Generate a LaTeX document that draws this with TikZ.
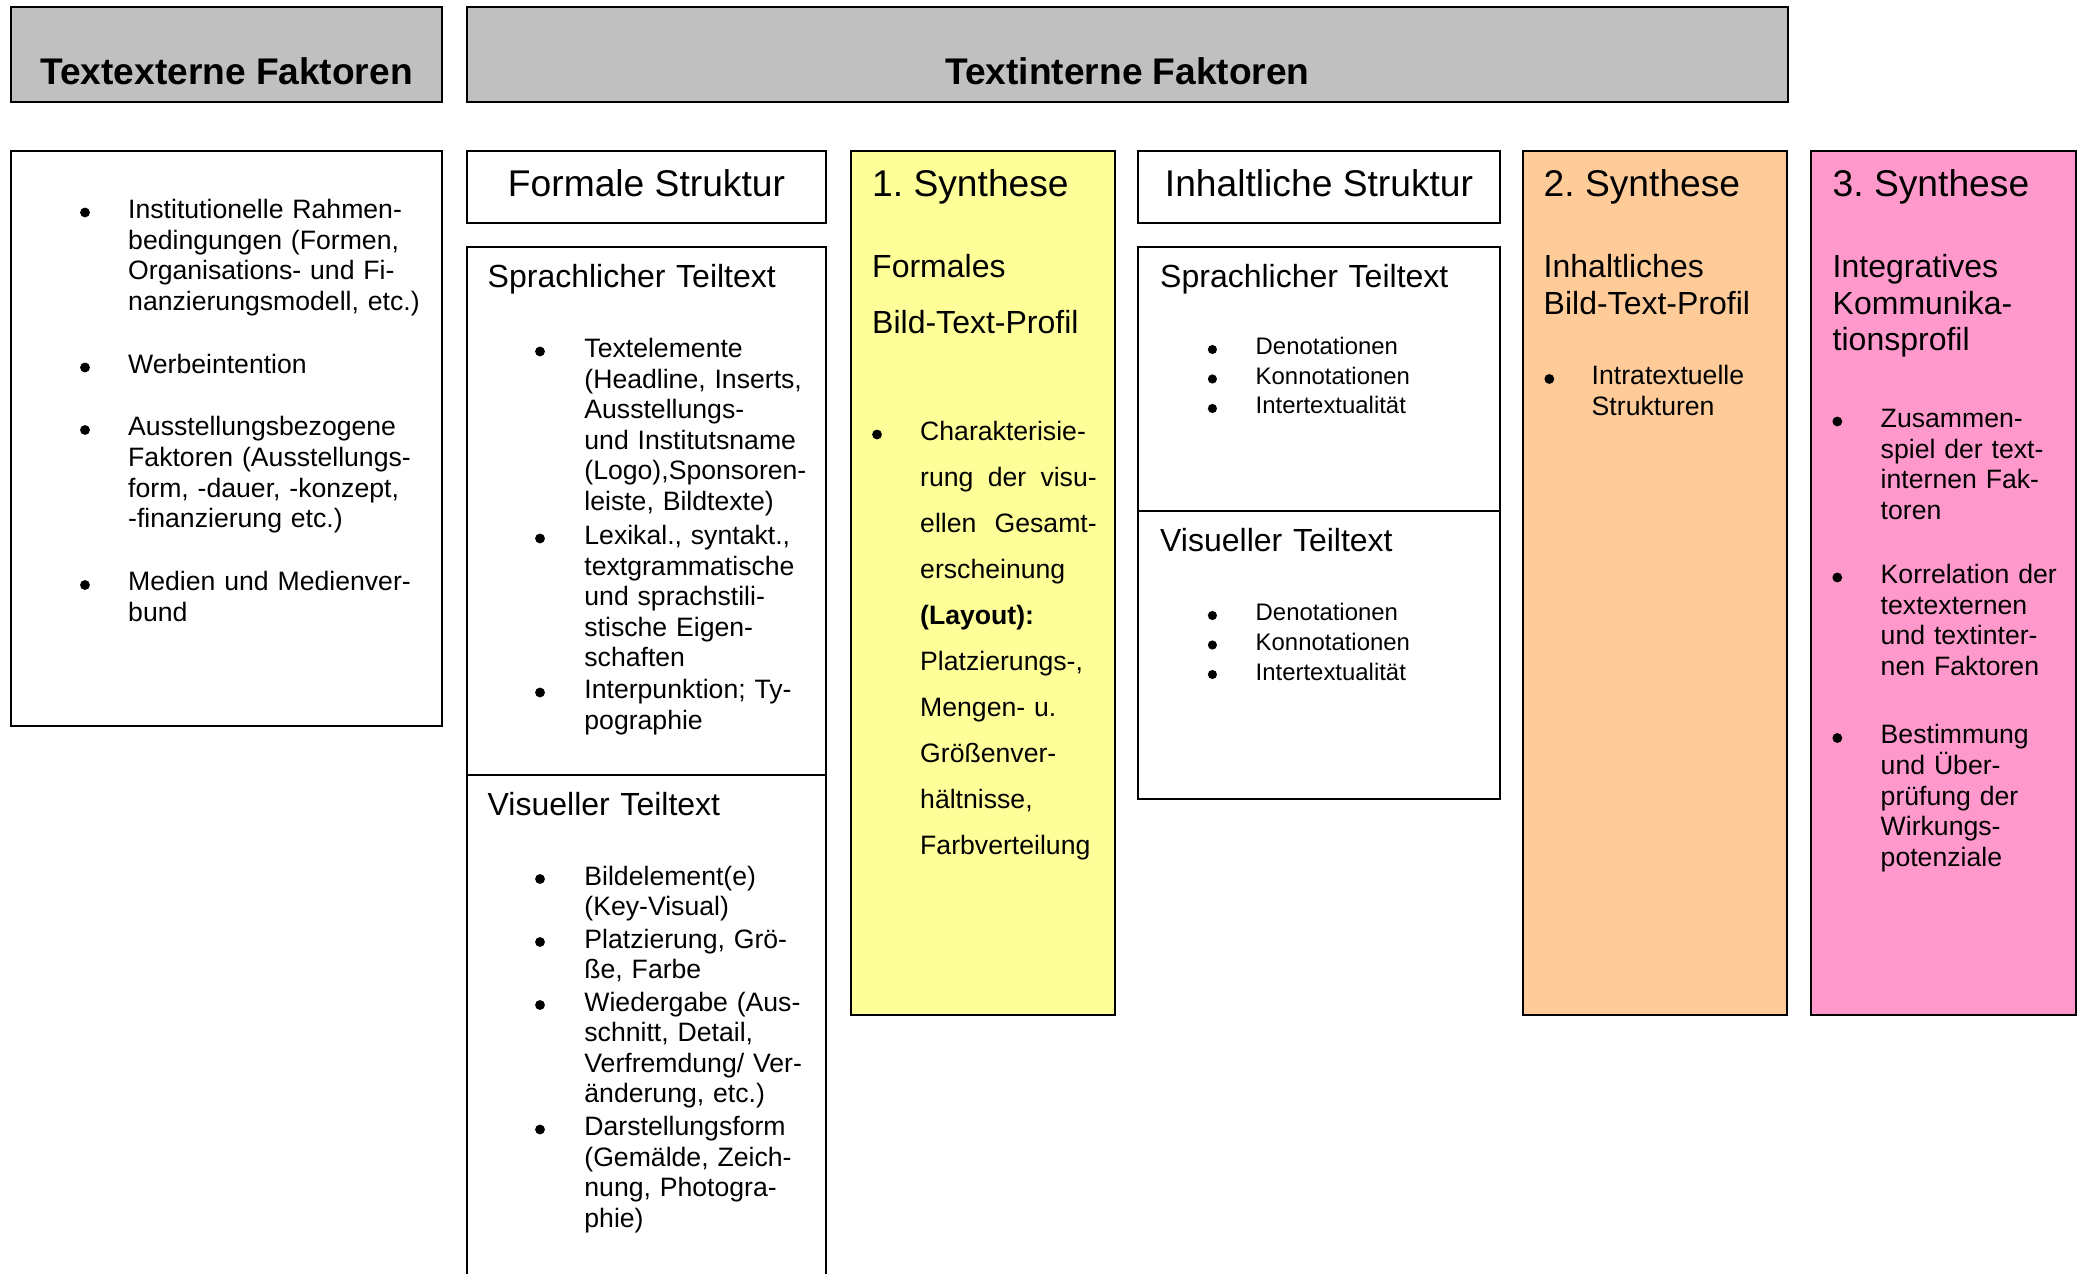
\documentclass[tikz,border=0pt]{standalone}
\usepackage{fontspec}
\setmainfont{Liberation Sans}
\definecolor{hdrgray}{HTML}{C0C0C0}
\definecolor{synyellow}{HTML}{FFFF99}
\definecolor{synorange}{HTML}{FFCC99}
\definecolor{synpink}{HTML}{FF99CC}
\tikzset{
  frame/.style={draw=black, line width=0.6pt},
  head/.style={inner sep=0pt, anchor=base, font=\bfseries\fontsize{10.55pt}{12pt}\selectfont},
  title/.style={inner sep=0pt, font=\fontsize{10.58pt}{12pt}\selectfont},
  txt/.style={anchor=base west, inner sep=0pt, text width=5cm, align=left},
  mid/.style={txt, font=\fontsize{9.1pt}{10.33pt}\selectfont},
  body/.style={txt, font=\fontsize{7.57pt}{8.68pt}\selectfont},
  small/.style={txt, font=\fontsize{6.8pt}{8.39pt}\selectfont}
}
\newcommand{\bul}[2]{\fill (#1,#2) circle (1.4pt);}
\newcommand{\sbul}[2]{\fill (#1,#2) circle (1.3pt);}
\begin{document}
\frenchspacing
\begin{tikzpicture}[x=0.01cm,y=-0.01cm]
\useasboundingbox (0,0) rectangle (2080,1274);
\draw[frame, fill=hdrgray] (11,7) rectangle (442,102);
\draw[frame, fill=hdrgray] (467,7) rectangle (1788,102);
\node[head] (extern) at (226.5,85) {Textexterne Faktoren};
\node[head] (intern) at (1127.5,85) {Textinterne Faktoren};

\draw[frame] (11,151) rectangle (442,726);
\node[body] (ext1) at (127.5,218.5) {Institutionelle Rahmen-\\bedingungen (Formen,\\Organisations- und Fi-\\nanzierungsmodell, etc.)};
\node[body] (ext2) at (127.5,373.5) {Werbeintention};
\node[body] (ext3) at (127.5,436) {Ausstellungsbezogene\\Faktoren (Ausstellungs-\\form, -dauer, -konzept,\\-finanzierung etc.)};
\node[body] (ext4) at (127.5,591) {Medien und Medienver-\\bund};
\bul{85}{212.5} \bul{85}{367.5} \bul{85}{430} \bul{85}{585}

\draw[frame] (467,151) rectangle (826,223);
\node[title, anchor=base] (formal) at (646.5,197) {Formale Struktur};
\draw[frame] (467,1274) -- (467,247) -- (826,247) -- (826,1274);
\draw[frame] (467,775) -- (826,775);
\node[mid] (fsprach) at (487,288) {Sprachlicher Teiltext};
\node[body] (fs1) at (583.7,357.5) {Textelemente\\(Headline, Inserts,\\Ausstellungs-\\und Institutsname\\(Logo),Sponsoren-\\leiste, Bildtexte)};
\node[body] (fs2) at (583.7,544.5) {Lexikal., syntakt.,\\textgrammatische\\und sprachstili-\\stische Eigen-\\schaften};
\node[body] (fs3) at (583.7,698.5) {Interpunktion; Ty-\\pographie};
\bul{540}{351.5} \bul{540}{538.5} \bul{540}{692.5}
\node[mid] (fvis) at (487,816) {Visueller Teiltext};
\node[body] (fv1) at (583.7,885) {Bildelement(e)\\(Key-Visual)};
\node[body] (fv2) at (583.7,948) {Platzierung, Grö-\\ße, Farbe};
\node[body] (fv3) at (583.7,1011) {Wiedergabe (Aus-\\schnitt, Detail,\\Verfremdung/ Ver-\\änderung, etc.)};
\node[body] (fv4) at (583.7,1135.5) {Darstellungsform\\(Gemälde, Zeich-\\nung, Photogra-\\phie)};
\bul{540}{879} \bul{540}{942} \bul{540}{1005} \bul{540}{1129.5}

\draw[frame, fill=synyellow] (851,151) rectangle (1115,1015);
\node[title, anchor=base west] (syn1) at (871.5,197) {1. Synthese};
\node[mid, font=\fontsize{9.1pt}{15.88pt}\selectfont] (syn1sub) at (871.5,277.5) {Formales\\Bild-Text-Profil};
\node[body, font=\fontsize{7.57pt}{13.06pt}\selectfont] (syn1a) at (919.5,441) {Charakterisie-\\\makebox[50.2pt][l]{rung\hfill der\hfill visu-}\\\makebox[50.2pt][l]{ellen\hfill Gesamt-}\\erscheinung\\\textbf{(Layout):}\\Platzierungs-,\\Mengen- u.\\Größenver-\\hältnisse,\\Farbverteilung};
\bul{877}{434.5}

\draw[frame] (1138,151) rectangle (1500,223);
\node[title, anchor=base] (inhalt) at (1319,197) {Inhaltliche Struktur};
\draw[frame] (1138,247) rectangle (1500,799);
\draw[frame] (1138,511) -- (1500,511);
\node[mid] (isprach) at (1159.5,288) {Sprachlicher Teiltext};
\node[small] (is1) at (1255,355) {Denotationen\\Konnotationen\\Intertextualität};
\sbul{1212.4}{349.5} \sbul{1212.4}{379} \sbul{1212.4}{408.5}
\node[mid] (ivis) at (1159.5,552) {Visueller Teiltext};
\node[small] (iv1) at (1255,621) {Denotationen\\Konnotationen\\Intertextualität};
\sbul{1212.4}{615.5} \sbul{1212.4}{645} \sbul{1212.4}{674.5}

\draw[frame, fill=synorange] (1523,151) rectangle (1787,1015);
\node[title, anchor=base west] (syn2) at (1543,197) {2. Synthese};
\node[mid] (syn2sub) at (1543,277.7) {Inhaltliches\\Bild-Text-Profil};
\node[body] (syn2a) at (1591,385) {Intratextuelle\\Strukturen};
\bul{1549.3}{379}

\draw[frame, fill=synpink] (1811,151) rectangle (2076,1015);
\node[title, anchor=base west] (syn3) at (1832,197) {3. Synthese};
\node[mid, font=\fontsize{9.1pt}{10.36pt}\selectfont] (syn3sub) at (1832,277.7) {Integratives\\Kommunika-\\tionsprofil};
\node[body] (syn3a) at (1880,427.5) {Zusammen-\\spiel der text-\\internen Fak-\\toren};
\node[body] (syn3b) at (1880,583.5) {Korrelation der\\textexternen\\und textinter-\\nen Faktoren};
\node[body] (syn3c) at (1880,744) {Bestimmung\\und Über-\\prüfung der\\Wirkungs-\\potenziale};
\bul{1837.3}{421.5} \bul{1837.3}{577.5} \bul{1837.3}{738}
\end{tikzpicture}
\end{document}
